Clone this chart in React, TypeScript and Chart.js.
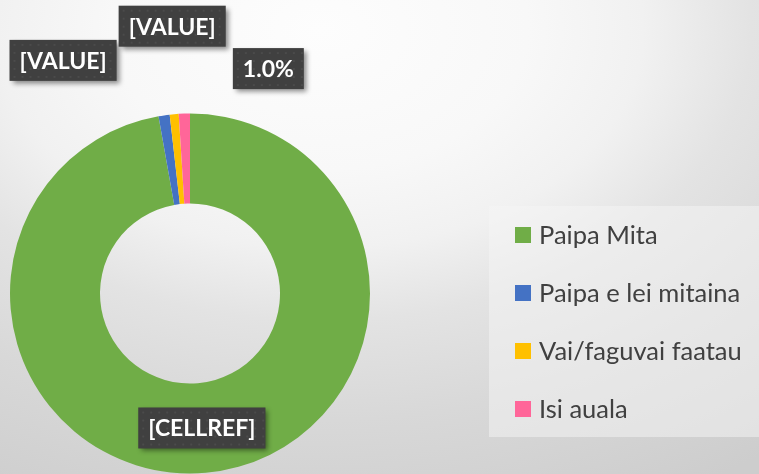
import React, { useEffect, useRef } from "react";
import { Chart, registerables } from "chart.js";

Chart.register(...registerables);

const categories = ["Paipa Mita", "Paipa e lei mitaina", "Vai/faguvai faatau", "Isi auala"];
const values = [97.2, 1.0, 0.8, 1.0];
const colors = ["#70AD47", "#4472C4", "#FFC000", "#FF6699"];
const labelTexts = ["[CELLREF]", "[VALUE]", "[VALUE]", "1.0%"];

// label box offsets relative to each arc's anchor (centroid for big slice, outer edge for small ones)
const labelOffsets: [number, number][] = [
  [0, 0],
  [-101, -55],
  [-2, -88],
  [84, -45],
];

const labelPlugin = {
  id: "boxLabels",
  afterDatasetsDraw(chart: any) {
    const ctx = chart.ctx;
    const meta = chart.getDatasetMeta(0);
    ctx.save();
    ctx.font = "bold 23px Lato";
    ctx.textBaseline = "middle";
    ctx.textAlign = "center";
    meta.data.forEach((arc: any, i: number) => {
      const p = arc.getProps(["x", "y", "startAngle", "endAngle", "innerRadius", "outerRadius"], true);
      const mid = (p.startAngle + p.endAngle) / 2;
      let ax: number, ay: number;
      if (i === 0) {
        const r = (p.innerRadius + p.outerRadius) / 2;
        ax = p.x + Math.cos(mid) * r;
        ay = p.y + Math.sin(mid) * r;
      } else {
        ax = p.x + Math.cos(mid) * p.outerRadius;
        ay = p.y + Math.sin(mid) * p.outerRadius;
      }
      const cx = ax + labelOffsets[i][0];
      const cy = ay + labelOffsets[i][1];
      const text = labelTexts[i];
      const w = ctx.measureText(text).width + 20;
      const h = 41;
      ctx.save();
      ctx.shadowColor = "rgba(0,0,0,0.45)";
      ctx.shadowBlur = 5;
      ctx.shadowOffsetX = 3;
      ctx.shadowOffsetY = 3;
      ctx.fillStyle = "#404040";
      ctx.fillRect(cx - w / 2, cy - h / 2, w, h);
      ctx.restore();
      // subtle dot pattern
      ctx.fillStyle = "rgba(255,255,255,0.06)";
      for (let yy = cy - h / 2 + 4; yy < cy + h / 2; yy += 8) {
        for (let xx = cx - w / 2 + 4; xx < cx + w / 2; xx += 8) {
          ctx.fillRect(xx, yy, 2, 2);
        }
      }
      ctx.fillStyle = "#ffffff";
      ctx.fillText(text, cx, cy + 1);
    });
    ctx.restore();
  },
};

const legendPlugin = {
  id: "boxLegend",
  afterDraw(chart: any) {
    const ctx = chart.ctx;
    const ds = chart.data.datasets[0];
    const boxX = 489;
    const boxY = 206;
    const boxW = 270;
    const boxH = 231;
    ctx.save();
    ctx.fillStyle = "rgba(245,245,245,0.5)";
    ctx.fillRect(boxX, boxY, boxW, boxH);
    ctx.font = "25.5px Lato";
    ctx.textBaseline = "middle";
    ctx.textAlign = "left";
    const rowH = 58;
    const firstY = 235;
    (chart.data.labels as string[]).forEach((lab: string, i: number) => {
      const y = firstY + i * rowH;
      ctx.fillStyle = ds.backgroundColor[i];
      ctx.fillRect(515, y - 8, 16, 16);
      ctx.fillStyle = "#404040";
      ctx.fillText(lab, 539, y + 1);
    });
    ctx.restore();
  },
};

export default function App() {
  const ref = useRef<HTMLCanvasElement>(null);
  useEffect(() => {
    document.body.style.margin = "0";
    const chart = new Chart(ref.current!, {
      type: "doughnut",
      data: {
        labels: categories,
        datasets: [
          {
            data: values,
            backgroundColor: colors,
            borderWidth: 0,
          },
        ],
      },
      options: {
        animation: false,
        responsive: false,
        cutout: "50%",
        layout: { padding: { left: 10, top: 113, right: 389, bottom: 0 } },
        plugins: {
          legend: { display: false },
          tooltip: { enabled: false },
        },
      },
      plugins: [labelPlugin, legendPlugin],
    });
    return () => chart.destroy();
  }, []);
  return (
    <div
      style={{
        position: "absolute",
        left: 0,
        top: 0,
        width: 759,
        height: 474,
        background:
          "radial-gradient(ellipse 770px 520px at 320px 30px, #fdfdfd 0%, #f8f8f8 27%, #f1f1f1 42%, #e3e3e3 56%, #d8d8d8 75%, #cdcdcd 100%)",
      }}
    >
      <canvas ref={ref} width={759} height={474} style={{ display: "block" }} />
    </div>
  );
}
